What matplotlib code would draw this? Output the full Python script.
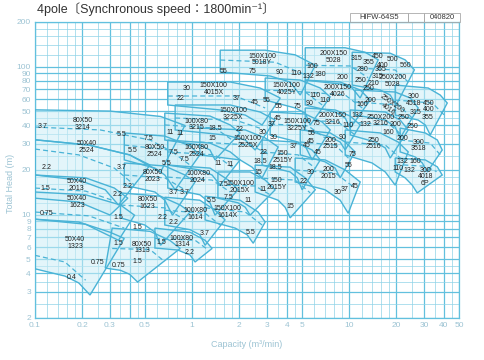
import matplotlib
matplotlib.use('Agg')
import matplotlib.pyplot as plt
from matplotlib import font_manager as fm
from matplotlib.patches import Polygon, Rectangle

names = {f.name for f in fm.fontManager.ttflist}
NARROW = 'Liberation Sans Narrow' if 'Liberation Sans Narrow' in names else 'Liberation Sans'

# ---------------- data ----------------
x_ticks = [0.1, 0.2, 0.3, 0.5, 1, 2, 3, 4, 5, 10, 20, 30, 40, 50]
y_ticks = [2, 3, 4, 5, 6, 7, 8, 9, 10, 20, 30, 40, 50, 60, 70, 80, 90, 100, 200]
grid_subs = [1, 1.2, 1.4, 1.6, 1.8, 2, 2.5, 3, 3.5, 4, 4.5, 5, 6, 7, 8, 9]

tile_names = [
    "80X50\n3214", "50X40\n2524", "50X40\n2013", "50X40\n1623", "50X40\n1323",
    "80X50\n2524", "80X50\n2023", "80X50\n1623", "80X50\n1313",
    "100X80\n3215", "100X80\n2524", "100X80\n2024", "100X80\n1614", "100X80\n1314",
    "150X100\n5018Y", "150X100\n4015X", "150X100\n3225X", "150X100\n2525X", "150X100\n2015X", "150X100\n1614X",
    "150X100\n4025Y", "150X100\n3225Y", "150\n2515Y", "150\n2015Y",
    "200X150\n5028", "250X200\n5028", "300\n4518", "200X150\n4026", "250X200\n4016",
    "200X150\n3216", "250X200\n3216", "200\n2515", "250\n2516", "300\n3518", "200\n2015", "300\n4018\n6P",
]
tile_tops = [
    [(0.1, 51), (0.30, 50), (0.63, 46), (0.90, 40)],
    [(0.1, 32), (0.22, 29.5), (0.40, 25.3), (0.54, 21.6)],
    [(0.1, 18.5), (0.21, 17.7), (0.32, 15.1), (0.39, 12.9)],
    [(0.1, 14.2), (0.21, 13.6), (0.35, 11.6), (0.43, 9.9)],
    [(0.1, 9.3), (0.19, 8.9), (0.30, 7.6), (0.37, 6.9)],
    [(0.37, 35.6), (0.67, 33.9), (0.97, 29.1), (1.12, 25.3)],
    [(0.37, 22.3), (0.67, 21.3), (0.90, 18.5), (1.045, 16.6)],
    [(0.35, 14.0), (0.63, 13.3), (0.84, 11.6), (0.97, 10.4)],
    [(0.31, 8.1), (0.54, 7.7), (0.72, 6.7), (0.84, 5.9)],
    [(0.67, 48.5), (1.30, 46.3), (1.75, 40.3), (2.02, 35.6)],
    [(0.70, 31.9), (1.30, 30.4), (1.75, 26.5), (2.02, 23.4)],
    [(0.70, 21.6), (1.30, 20.6), (1.70, 17.1), (1.96, 14.7)],
    [(0.67, 13.1), (1.12, 12.5), (1.40, 10.7), (1.62, 9.2)],
    [(0.58, 8.1), (0.97, 7.6), (1.21, 6.7), (1.34, 5.9)],
    [(1.51, 129), (2.92, 129), (4.53, 120), (6.08, 102)],
    [(0.70, 78.6), (1.75, 78.6), (2.71, 71.6), (3.64, 61.3)],
    [(0.78, 55), (1.75, 55), (2.71, 49.3), (3.38, 43.5)],
    [(1.12, 38.4), (2.18, 37.3), (2.92, 32.9), (3.53, 28.6)],
    [(1.46, 19.4), (2.34, 19.4), (2.92, 17.1), (3.38, 14.7)],
    [(1.21, 13.3), (2.02, 12.5), (2.63, 10.4), (2.92, 8.9)],
    [(2.92, 83.7), (4.88, 81.1), (6.54, 71.6), (7.57, 62.3)],
    [(3.14, 49.3), (5.25, 47.8), (6.73, 42.2), (7.57, 37.3)],
    [(2.79, 31.9), (4.53, 30.9), (5.81, 27.3), (6.54, 23.4)],
    [(2.52, 21.6), (4.21, 20.9), (5.25, 17.7), (6.08, 14.7)],
    [(5.25, 134), (9.43, 134), (12.6, 125), (15.3, 111)],
    [(10.45, 125), (18.25, 123), (22.7, 111), (26.0, 95)],
    [(19.63, 75), (31.86, 71.6), (37.98, 64.2), (42.1, 56.7)],
    [(5.25, 81), (8.76, 78.6), (11.75, 69.4), (13.6, 59.4)],
    [(10.9, 69.4), (19.6, 67.3), (24.5, 61.3), (27.5, 52.5)],
    [(5.25, 52.5), (8.14, 50.9), (10.15, 46.3), (11.75, 40.3)],
    [(10.15, 50.9), (16.96, 49.3), (21.1, 43.5), (23.76, 37.3)],
    [(4.88, 37.3), (7.57, 35.6), (9.43, 30.9), (10.9, 26.5)],
    [(9.43, 37.3), (15.76, 35.6), (20.5, 30.9), (23.76, 26.5)],
    [(21.1, 38.4), (30.5, 35.6), (36.4, 31.9), (39.1, 27.3)],
    [(4.53, 24.1), (7.03, 23.4), (9.43, 20.0), (11.75, 16.6)],
    [(19.63, 24.1), (30.5, 23.4), (36.4, 21.0), (39.1, 18.5)],
]
tile_bottoms = [
    [(0.1, 32), (0.22, 29.5), (0.40, 25.3), (0.63, 19.4)],
    [(0.1, 18.5), (0.19, 17.1), (0.28, 14.7), (0.34, 11.6)],
    [(0.1, 12.9), (0.19, 12.15), (0.30, 9.93)],
    [(0.1, 9.3), (0.21, 8.6), (0.34, 6.7)],
    [(0.1, 4.3), (0.155, 3.84), (0.19, 3.45), (0.224, 2.86)],
    [(0.37, 23.4), (0.58, 20.6), (0.67, 18.5), (0.78, 14.7)],
    [(0.37, 15.8), (0.58, 14.2), (0.67, 12.5), (0.75, 9.9)],
    [(0.35, 9.5), (0.50, 8.5), (0.58, 7.6), (0.63, 6.2)],
    [(0.28, 4.35), (0.35, 4.2), (0.40, 3.95), (0.45, 3.5)],
    [(0.67, 31.9), (1.12, 29.5), (1.30, 27.3), (1.40, 23.4)],
    [(0.70, 21.6), (1.12, 20.0), (1.34, 18.5), (1.51, 15.8)],
    [(0.70, 15.1), (1.12, 13.6), (1.30, 12.0), (1.40, 9.9)],
    [(0.67, 8.5), (0.97, 7.9), (1.12, 7.3), (1.21, 6.2)],
    [(0.58, 5.94), (0.81, 5.76), (0.97, 5.33), (1.045, 4.78)],
    [(1.51, 92), (3.14, 86.3), (4.21, 78.6), (4.88, 64.2)],
    [(0.70, 55), (1.51, 50.9), (2.18, 47.0), (2.79, 40.3)],
    [(0.78, 37.3), (1.62, 34.5), (2.18, 31.9), (2.52, 27.3)],
    [(1.12, 25.3), (2.02, 23.4), (2.41, 20.9), (2.79, 17.7)],
    [(1.46, 12.9), (1.96, 12.0), (2.18, 11.2), (2.34, 9.9)],
    [(1.21, 9.2), (1.88, 8.1), (2.24, 7.3), (2.45, 6.4)],
    [(2.92, 59.4), (4.53, 52.5), (5.25, 48.5), (5.65, 40.3)],
    [(3.14, 34.5), (4.73, 30.9), (5.32, 28.2), (5.81, 23.4)],
    [(2.79, 21.6), (4.21, 19.4), (4.67, 17.7), (5.02, 14.7)],
    [(2.52, 14.2), (3.53, 12.5), (3.91, 11.2), (4.21, 9.5)],
    [(5.25, 81), (8.76, 76.2), (10.45, 71.6), (11.75, 61.3)],
    [(10.45, 75), (15.76, 69.4), (18.25, 64.2), (19.9, 55)],
    [(19.63, 47), (27.5, 43.5), (30.5, 40.3), (32.8, 34.5)],
    [(5.25, 55), (8.14, 49.3), (9.43, 44.9), (10.15, 38.4)],
    [(10.9, 47), (17.0, 43.5), (19.6, 39.1), (21.1, 32.9)],
    [(5.25, 37.3), (7.57, 33.4), (8.76, 30.9), (9.43, 27.3)],
    [(10.15, 34.5), (14.64, 30.9), (16.96, 28.2), (18.25, 24.1)],
    [(4.88, 25.3), (7.03, 22.7), (8.14, 20.6), (8.76, 17.7)],
    [(9.43, 25.3), (14.0, 22.3), (16.96, 19.4), (19.63, 15.8)],
    [(21.1, 26.5), (26.3, 24.5), (29.2, 22.3), (31.4, 19.4)],
    [(4.53, 16.6), (7.03, 14.7), (8.76, 12.5), (9.86, 10.2)],
    [(19.63, 19.4), (22.7, 17.7), (25.2, 15.8), (27.1, 14.0)],
]
tile_dashes = [
    [(0.1, 39), (0.26, 37.3), (0.54, 31.9), (0.75, 26.5)],
    [(0.1, 27.7), (0.19, 25.3), (0.32, 20.6), (0.43, 15.8)],
    [(0.1, 15.1), (0.21, 14.4), (0.31, 12.5)],
    [(0.1, 10.4), (0.22, 9.8), (0.37, 8.1)],
    [(0.1, 5.3), (0.155, 4.78), (0.21, 3.6)],
    [(0.37, 29.5), (0.72, 27.3), (0.97, 21.6)],
    [(0.37, 18.5), (0.67, 17.7), (0.90, 14.7)],
    [(0.35, 11.6), (0.67, 11.1), (0.90, 9.2)],
    [(0.31, 5.9), (0.54, 5.8), (0.67, 4.8)],
    [(0.67, 40.3), (1.40, 38.4), (1.80, 31.9)],
    [(0.70, 26.5), (1.40, 25.3), (1.80, 20.9)],
    [(0.70, 17.9), (1.34, 17.1), (1.75, 14.2)],
    [(0.67, 10.7), (1.21, 10.2), (1.51, 8.5)],
    [(0.58, 6.9), (1.045, 6.7), (1.27, 5.76)],
    [(1.51, 110.7), (3.38, 107), (5.25, 88)],
    [(0.70, 63.2), (1.88, 63.3), (2.92, 52.5)],
    [(0.78, 44.9), (1.88, 43.5), (2.92, 37.3)],
    [(1.12, 30.9), (2.34, 29.5), (3.14, 25.3)],
    [(1.46, 15.8), (2.52, 15.6), (3.14, 13.6)],
    [(1.21, 11.1), (2.18, 10.4), (2.79, 8.5)],
    [(2.92, 69.4), (5.25, 67.3), (6.73, 55)],
    [(3.14, 40.9), (5.48, 39.7), (7.03, 32.9)],
    [(2.79, 26.5), (4.73, 25.3), (6.08, 20.6)],
    [(2.52, 17.7), (4.53, 17.1), (5.65, 14.0)],
    [(5.25, 102), (10.15, 100.9), (13.2, 84)],
    [(10.45, 98), (19.63, 94.8), (23.76, 78.6)],
    [(19.63, 59.4), (33.8, 56.7), (40.3, 47)],
    [(5.25, 67.3), (9.43, 64.2), (12.1, 52.5)],
    [(10.9, 57.6), (20.5, 55), (25.2, 44.9)],
    [(5.25, 43.5), (8.51, 42.2), (10.9, 34.5)],
    [(10.15, 42.2), (18.25, 40.3), (22.4, 33.4)],
    [(4.88, 30.9), (8.14, 29.5), (10.15, 23.4)],
    [(9.43, 30.9), (16.96, 29.5), (21.8, 23.4)],
    [(21.1, 31.9), (32.8, 30.4), (38.0, 25.3)],
    [(4.53, 20.0), (8.14, 19.1), (10.9, 15.1)],
    [(19.63, 21.8), (30.5, 21.2), (36.0, 19.5)],
]
tile_label_pos = [
    (0.202, 40.9), (0.214, 28.6), (0.185, 15.8), (0.185, 12.15), (0.18, 6.4),
    (0.58, 26.9), (0.56, 18.2), (0.52, 12.0), (0.48, 6.0),
    (1.06, 40.5), (1.07, 26.9), (1.09, 17.9), (1.045, 10.1), (0.86, 6.6),
    (2.79, 112), (1.37, 70.5), (1.82, 47.8), (2.25, 30.9), (2.02, 15.3), (1.67, 10.4),
    (4.0, 70.5), (4.65, 40.3), (3.75, 24.5), (3.45, 16.1),
    (8.0, 116), (18.8, 80), (25.6, 59.4), (8.5, 68.4), (18.25, 54),
    (7.8, 44.2), (15.8, 43.1), (7.6, 30.1), (14.2, 30.1), (27.5, 29.3), (7.4, 19.1), (30.5, 18.0),
]
tile_label_rot = [0] * 28 + [-35] + [0] * 7

kw_text = ["3.7", "5.5", "7.5", "11", "11", "5.5", "5.5", "7.5", "7.5", "2.2", "3.7", "1.5", "2.2", "2.2",
           "3.7", "3.7", "0.75", "1.5", "1.5", "2.2", "2.2", "1.5", "1.5", "1.5", "0.75", "0.75", "0.4",
           "2.2", "3.7", "5.5", "7.5", "5.5", "18.5", "15", "11", "11", "7.5", "11", "11", "15", "18.5",
           "18.5", "22", "15", "22", "30", "30", "37", "45",
           "55", "75", "90", "110", "132", "160", "30", "22", "37", "45", "55", "55", "75", "110", "90",
           "110", "45", "37", "30", "22", "30", "37", "45", "55", "75", "200", "180", "315", "355", "450",
           "500", "560", "280", "400", "355", "315", "250", "210", "250", "160", "200", "450", "400",
           "355", "315", "250", "250", "132", "110", "132", "160", "200", "90", "200", "75", "55", "45",
           "45", "132", "160", "110", "132"]
kw_q = [0.112, 0.358, 0.525, 0.72, 0.84, 0.421, 0.69, 0.76, 0.90, 0.119, 0.358, 0.116, 0.391, 0.338,
        0.76, 0.90, 0.119, 0.338, 0.447, 0.65, 0.76, 0.338, 0.447, 0.64, 0.25, 0.338, 0.172,
        0.96, 1.21, 1.34, 1.70, 2.34, 1.40, 1.34, 1.46, 1.75, 1.58, 2.28, 2.84, 2.63, 2.71,
        3.38, 2.84, 4.21, 5.1, 5.65, 8.4, 9.3, 10.9,
        1.58, 2.41, 3.6, 4.6, 5.5, 5.8, 0.92, 0.85, 1.93, 2.52, 3.0, 3.53, 4.7, 6.1, 5.6,
        7.0, 3.53, 3.23, 2.8, 2.02, 3.3, 4.45, 5.7, 5.8, 6.2, 9.0, 6.5, 11.2, 13.2, 15.1,
        18.8, 22.7, 12.1, 16.3, 15.8, 15.1, 11.75, 14.3, 13.2, 12.1, 13.6, 31.9, 31.9,
        31.4, 26.3, 25.2, 22.3, 11.3, 9.85, 12.6, 17.7, 19.6, 9.1, 21.9, 10.45, 9.85, 5.4,
        6.3, 21.9, 26.3, 20.5, 24.0]
kw_h = [39.1, 35.0, 32.9, 36.0, 35.4, 27.3, 22.3, 26.1, 23.4, 20.9, 20.9, 15.1, 15.4, 13.6,
        14.0, 14.0, 10.2, 9.5, 8.2, 9.5, 8.9, 6.4, 4.78, 6.5, 4.71, 4.56, 3.78,
        5.58, 7.5, 12.5, 13.1, 7.6, 38.4, 32.9, 22.3, 21.9, 16.0, 12.5, 14.7, 19.1, 22.7,
        20.9, 26.1, 11.4, 16.6, 19.1, 14.0, 14.7, 15.4,
        91.9, 91.9, 90.8, 89.8, 85.5, 100, 71.6, 61.3, 61.3, 57.6, 59.4, 53.3, 54, 64.2, 56.7,
        59.4, 44.9, 40.3, 36.0, 37.3, 33.4, 28.8, 31.0, 35.3, 41.5, 83.7, 87.7, 114, 107, 117,
        111, 101, 95, 101, 95, 85, 81, 77, 71.6, 55, 59.4, 56.7, 50.9,
        45.6, 49.3, 39.1, 45.6, 47, 39.7, 40.9, 35.8, 40.3, 33.4, 32.9, 25.3, 21.6, 29.5,
        26.1, 23, 22.7, 20.6, 19.9]

title = "4pole〔Synchronous speed：1800min⁻¹〕"
doc_code = "HIFW-64S5"
doc_date = "040820"

# ---------------- styling ----------------
LINE = '#49b3d6'
GRID = '#8fd3e8'
GRID_MAJ = '#62c0de'
FILL = '#cdeef7'
TICKC = '#9cc3d3'

fig = plt.figure(figsize=(4.84, 3.6), dpi=100)
fig.patch.set_facecolor('white')
ax = fig.add_axes([35 / 484, 42 / 360, 424 / 484, 296 / 360])
ax.set_xscale('log')
ax.set_yscale('log')
ax.set_xlim(0.1, 50)
ax.set_ylim(2, 200)

# grid
for dec in [0.1, 1, 10]:
    for s in grid_subs:
        v = dec * s
        if 0.1 <= v <= 50:
            major = any(abs(v - t) < 1e-9 for t in x_ticks) or abs(v - 0.4) < 1e-9
            ax.axvline(v, color=GRID_MAJ if major else GRID, lw=0.9 if major else 0.5, zorder=1)
for dec in [1, 10, 100]:
    for s in grid_subs:
        v = dec * s
        if 2 <= v <= 200:
            major = any(abs(v - t) < 1e-9 for t in y_ticks)
            ax.axhline(v, color=GRID_MAJ if major else GRID, lw=0.9 if major else 0.5, zorder=1)

# tiles
for name, top, bot, dash, pos, rot in zip(tile_names, tile_tops, tile_bottoms, tile_dashes,
                                          tile_label_pos, tile_label_rot):
    poly = top + bot[::-1]
    ax.add_patch(Polygon(poly, closed=True, facecolor=FILL, edgecolor='none', alpha=0.55, zorder=2))
    ax.add_patch(Polygon(poly, closed=True, facecolor='none', edgecolor=LINE, lw=1.0, zorder=3))
    ax.plot([p[0] for p in dash], [p[1] for p in dash], color=LINE, lw=0.9,
            dashes=(4, 2.5), zorder=3)
    ax.text(pos[0], pos[1], name, fontsize=5, family=[NARROW, 'DejaVu Sans'], color='#222222',
            ha='center', va='center', linespacing=0.9, rotation=rot, zorder=5)

for t, q, h in zip(kw_text, kw_q, kw_h):
    ax.text(q, h, t, fontsize=5, family=[NARROW, 'DejaVu Sans'], color='#222222',
            ha='center', va='center', zorder=5)

# axes styling
for sp in ax.spines.values():
    sp.set_color(GRID_MAJ)
    sp.set_linewidth(0.9)
ax.set_xticks(x_ticks)
ax.set_xticklabels([f"{v:g}" for v in x_ticks])
ax.set_yticks(y_ticks)
ax.set_yticklabels([f"{v:g}" for v in y_ticks])
ax.minorticks_off()
ax.tick_params(length=0, labelsize=6, labelcolor=TICKC, pad=3)
for lab in ax.get_xticklabels() + ax.get_yticklabels():
    lab.set_family(['Liberation Sans', 'DejaVu Sans'])
ax.set_xlabel("Capacity (m³/min)", fontsize=6.5, color=TICKC, labelpad=8,
              family=['Liberation Sans', 'DejaVu Sans'])
fig.text(11 / 484, 1 - 183 / 360, "Total Head (m)", fontsize=6.5, color=TICKC, rotation=90,
         ha='center', va='center', family=['Liberation Sans', 'DejaVu Sans'])

# title and header box
fig.text(37 / 484, 1 - 9 / 360, title, fontsize=9, color='#333333', va='center', ha='left',
         family=['Liberation Sans', 'DejaVu Sans', 'Noto Sans CJK JP'])
for x0, x1 in [(350, 408), (408, 424), (424, 460)]:
    fig.add_artist(Rectangle((x0 / 484, 1 - 22 / 360), (x1 - x0) / 484, 9 / 360,
                             transform=fig.transFigure, fill=False, edgecolor='#aaaaaa', lw=0.6))
fig.text(379 / 484, 1 - 17.5 / 360, doc_code, fontsize=5.5, color='#333333', ha='center', va='center',
         family=['Liberation Sans', 'DejaVu Sans'])
fig.text(442 / 484, 1 - 17.5 / 360, doc_date, fontsize=5.5, color='#333333', ha='center', va='center',
         family=['Liberation Sans', 'DejaVu Sans'])

fig.savefig('out.png', dpi=100)
